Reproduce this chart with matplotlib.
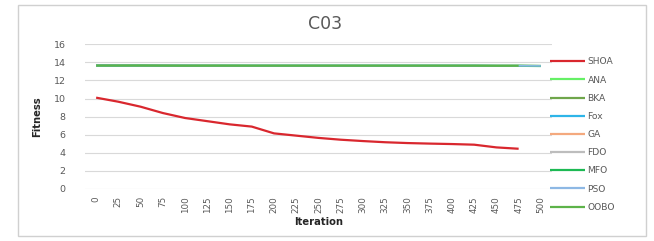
import matplotlib
matplotlib.use("Agg")
import matplotlib.pyplot as plt
from matplotlib.patches import Rectangle

iterations = [0, 25, 50, 75, 100, 125, 150, 175, 200, 225, 250,
              275, 300, 325, 350, 375, 400, 425, 450, 475, 500]

shoa = [10.1, 9.65, 9.1, 8.4, 7.85, 7.5, 7.15, 6.9, 6.15, 5.9, 5.65,
        5.45, 5.3, 5.17, 5.08, 5.02, 4.97, 4.9, 4.6, 4.45, None]
ana  = [13.66, 13.66, 13.65, 13.65, 13.64, 13.64, 13.64, 13.63, 13.63, 13.63, 13.63,
        13.63, 13.63, 13.63, 13.63, 13.63, 13.63, 13.63, 13.63, 13.63, 13.62]
bka  = [13.67, 13.66, 13.66, 13.65, 13.64, 13.64, 13.64, 13.63, 13.63, 13.63, 13.63,
        13.63, 13.63, 13.63, 13.63, 13.63, 13.63, 13.63, 13.63, 13.63, 13.62]
fox  = [13.66, 13.65, 13.64, 13.64, 13.64, 13.63, 13.63, 13.63, 13.63, 13.63, 13.63,
        13.63, 13.63, 13.63, 13.63, 13.63, 13.63, 13.63, 13.62, 13.62, 13.60]
ga   = [13.66, 13.66, 13.65, 13.65, 13.64, 13.64, 13.63, 13.63, 13.63, 13.63, 13.63,
        13.63, 13.63, 13.63, 13.63, 13.63, 13.63, 13.63, 13.63, 13.63, 13.62]
fdo  = [13.66, 13.66, 13.65, 13.65, 13.64, 13.64, 13.63, 13.63, 13.63, 13.63, 13.63,
        13.63, 13.63, 13.63, 13.63, 13.63, 13.63, 13.63, 13.63, 13.63, 13.62]
mfo  = [13.65, 13.64, 13.64, 13.63, 13.63, 13.63, 13.63, 13.63, 13.63, 13.63, 13.63,
        13.63, 13.63, 13.63, 13.63, 13.63, 13.63, 13.63, 13.62, 13.62, 13.60]
pso  = [13.66, 13.65, 13.63, 13.64, 13.64, 13.63, 13.63, 13.63, 13.63, 13.63, 13.63,
        13.63, 13.63, 13.63, 13.63, 13.63, 13.63, 13.63, 13.63, 13.62, 13.61]
oobo = [13.65, 13.65, 13.64, 13.64, 13.63, 13.63, 13.63, 13.63, 13.63, 13.63, 13.63,
        13.63, 13.63, 13.63, 13.63, 13.63, 13.63, 13.63, 13.62, 13.62, None]

series_names = ["SHOA", "ANA", "BKA", "Fox", "GA", "FDO", "MFO", "PSO", "OOBO"]
series_values = [shoa, ana, bka, fox, ga, fdo, mfo, pso, oobo]
series_colors = ["#D9272E", "#66F066", "#6FA64B", "#2EB5E8", "#F4A97E",
                 "#BDBDBD", "#1DB954", "#8DB8E4", "#5DB349"]
series_lw = [1.6, 1.2, 1.3, 1.3, 1.2, 1.2, 1.6, 1.2, 1.4]

W, H = 654, 241
fig = plt.figure(figsize=(W / 100, H / 100), dpi=100)
fig.patch.set_facecolor("white")

# outer chart border
fig.patches.append(Rectangle((18 / W, 1 - 236 / H), (646 - 18) / W, (236 - 5) / H,
                             transform=fig.transFigure, fill=False,
                             edgecolor="#D0D0D0", linewidth=1.0))

left, right = 85 / W, 552 / W
bottom, top = 1 - 189 / H, 1 - 44.3 / H
ax = fig.add_axes([left, bottom, right - left, top - bottom])

x = list(range(len(iterations)))
for name, vals, c, lw in zip(series_names, series_values, series_colors, series_lw):
    xs = [xi for xi, v in zip(x, vals) if v is not None]
    ys = [v for v in vals if v is not None]
    ax.plot(xs, ys, color=c, linewidth=lw, label=name, solid_capstyle="butt")

ax.set_xlim(-0.5, len(iterations) - 0.5)
ax.set_ylim(0, 16)
ax.set_yticks(range(0, 17, 2))
ax.set_xticks(x)
ax.set_xticklabels([str(i) for i in iterations], rotation=90, fontsize=6.3,
                   color="#595959")
for lab in ax.get_yticklabels():
    lab.set_fontsize(6.8)
    lab.set_color("#595959")
ax.tick_params(axis="both", length=0)
ax.tick_params(axis="y", pad=14)
ax.tick_params(axis="x", pad=5)
ax.grid(axis="y", color="#D9D9D9", linewidth=0.8)
ax.set_axisbelow(True)
for s in ax.spines.values():
    s.set_visible(False)

ax.set_xlabel("Iteration", fontsize=7.2, fontweight="bold", color="#262626", labelpad=3)
ax.set_ylabel("Fitness", fontsize=7.2, fontweight="bold", color="#262626", labelpad=8)

fig.text(325 / W, 1 - 24 / H, "C03", ha="center", va="center", fontsize=12.5,
         color="#595959")

leg = fig.legend(loc="upper left", bbox_to_anchor=(550 / W, 1 - 57.5 / H),
                 frameon=False, fontsize=6.6, handlelength=3.8, handletextpad=0.3,
                 labelspacing=1.0, borderpad=0, borderaxespad=0)
for t in leg.get_texts():
    t.set_color("#595959")
for l in leg.get_lines():
    l.set_linewidth(1.6)

fig.savefig("out.png", dpi=100)
